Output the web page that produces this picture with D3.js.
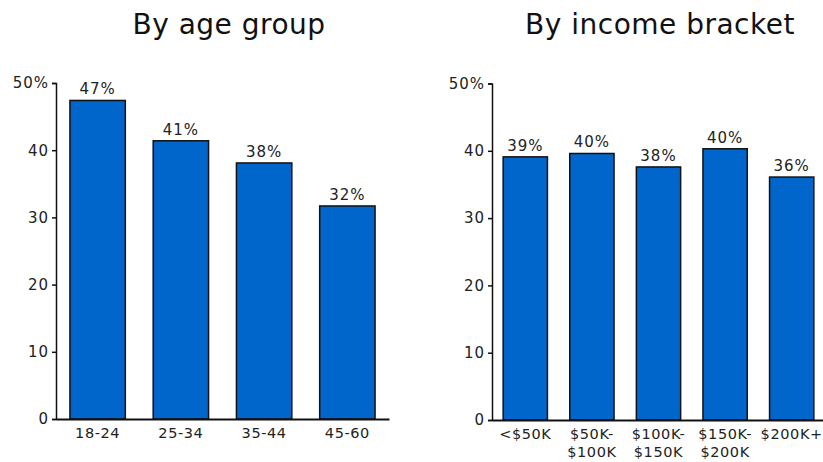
<!DOCTYPE html>
<html>
<head>
<meta charset="utf-8">
<script src="https://cdn.jsdelivr.net/npm/d3@7"></script>
<style>
  body { margin: 0; background: #fff; }
  svg { display: block; font-family: "DejaVu Sans", Verdana, sans-serif; }
</style>
</head>
<body>
<svg class="chart" width="823" height="462"></svg>
<script>
const ageGroups = ["18-24", "25-34", "35-44", "45-60"];
const ageValues = [47.4, 41.4, 38.1, 31.7];

const incomeBrackets = ["<$50K", "$50K-\n$100K", "$100K-\n$150K", "$150K-\n$200K", "$200K+"];
const incomeValues = [39.1, 39.6, 37.6, 40.3, 36.1];

const yTicks = [0, 10, 20, 30, 40, 50];

const svg = d3.select(".chart");

function drawPanel(title, cats, vals, box) {
  const x = d3.scaleBand().domain(cats).range([box.left, box.right])
    .paddingInner(0.335).paddingOuter(0.1675);
  const y = d3.scaleLinear().domain([0, 50]).range([box.bottom, box.top]);

  const g = svg.append("g");

  // title
  g.append("text")
    .attr("x", box.titleX)
    .attr("y", 34)
    .attr("text-anchor", "middle")
    .style("font-size", "28px")
    .style("letter-spacing", "0.5px")
    .attr("fill", "#111")
    .text(title);

  // bars
  g.selectAll(".bar")
    .data(vals)
    .enter()
    .append("rect")
    .attr("class", "bar")
    .attr("x", (d, i) => x(cats[i]))
    .attr("y", (d) => y(d))
    .attr("width", x.bandwidth())
    .attr("height", (d) => y(0) - y(d))
    .attr("fill", "#0066cc")
    .attr("stroke", "#111")
    .attr("stroke-width", 1.5);

  // value labels
  g.selectAll(".val")
    .data(vals)
    .enter()
    .append("text")
    .attr("class", "val")
    .attr("x", (d, i) => x(cats[i]) + x.bandwidth() / 2)
    .attr("y", (d) => y(d) - 6)
    .attr("text-anchor", "middle")
    .style("font-size", "15px")
    .style("letter-spacing", "1px")
    .attr("fill", "#222")
    .text((d) => Math.round(d) + "%");

  // y axis
  const yAxis = d3.axisLeft(y).tickValues(yTicks).tickSize(4).tickPadding(3)
    .tickFormat((d) => (d === 50 ? "50%" : d));
  const ya = g.append("g").attr("transform", `translate(${box.left},0)`).call(yAxis);
  ya.select(".domain").attr("stroke", "#111").attr("stroke-width", 1.5);
  ya.selectAll(".tick line").attr("stroke", "#111").attr("stroke-width", 1.5);
  ya.selectAll(".tick text")
    .style("font-size", "15px")
    .style("letter-spacing", "1px")
    .style("font-family", "DejaVu Sans, Verdana, sans-serif")
    .attr("fill", "#222");

  // x axis baseline
  const xAxis = d3.axisBottom(x).tickSize(0).tickPadding(0).tickFormat("");
  const xa = g.append("g").attr("transform", `translate(0,${box.bottom})`).call(xAxis);
  xa.select(".domain").attr("stroke", "#111").attr("stroke-width", 2);

  // x labels (may be two lines)
  const lab = g.selectAll(".xlab")
    .data(cats)
    .enter()
    .append("text")
    .attr("class", "xlab")
    .attr("text-anchor", "middle")
    .attr("transform", (d) => `translate(${x(d) + x.bandwidth() / 2},${box.bottom + 19})`)
    .style("font-size", "14.5px")
    .style("letter-spacing", "0.6px")
    .attr("fill", "#222");
  lab.selectAll("tspan")
    .data((d) => d.split("\n"))
    .enter()
    .append("tspan")
    .attr("x", 0)
    .attr("dy", (d, i) => (i === 0 ? 0 : 17.5))
    .text((d) => d);
}

drawPanel("By age group", ageGroups, ageValues,
  { left: 56, right: 389, top: 83, bottom: 419, titleX: 229 });
drawPanel("By income bracket", incomeBrackets, incomeValues,
  { left: 492, right: 825, top: 83.5, bottom: 420, titleX: 660 });
</script>
</body>
</html>
